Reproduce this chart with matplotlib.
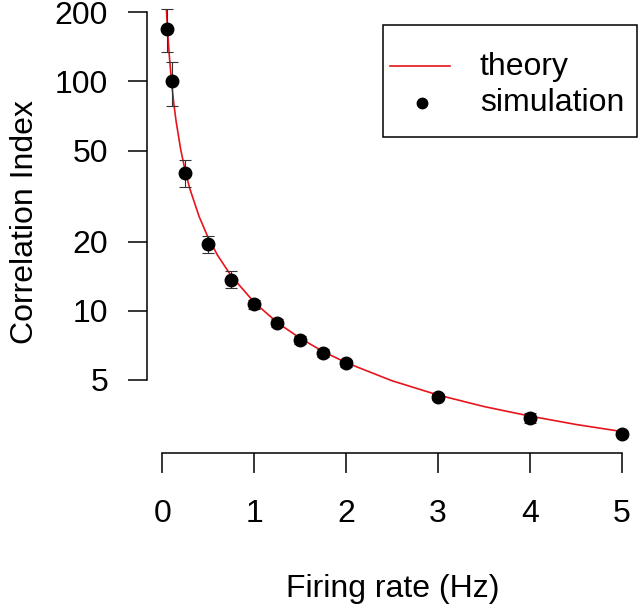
import matplotlib
matplotlib.use("Agg")
import matplotlib.pyplot as plt
import numpy as np
from matplotlib.lines import Line2D
from matplotlib.patches import Rectangle

plt.rcParams["font.family"] = ["Liberation Sans", "DejaVu Sans"]

# simulation points (firing rate in Hz, correlation index)
rate = [0.05, 0.1, 0.25, 0.5, 0.75, 1.0, 1.25, 1.5, 1.75, 2.0, 3.0, 4.0, 5.0]
sim_ci = [170, 100, 40, 19.6, 13.7, 10.7, 8.9, 7.47, 6.54, 5.91, 4.22, 3.42, 2.92]
sim_lo = [134, 78, 34.8, 17.9, 12.6, 10.2, 8.55, 7.18, 6.28, 5.72, 4.11, 3.25, 2.85]
sim_hi = [206, 122, 45.6, 21.3, 14.9, 11.2, 9.25, 7.78, 6.82, 6.10, 4.34, 3.60, 3.00]

# theory curve
th_rate = [0.045, 0.05, 0.06, 0.075, 0.1, 0.125, 0.15, 0.2, 0.25, 0.3, 0.4, 0.5,
           0.6, 0.75, 1.0, 1.25, 1.5, 1.75, 2.0, 2.5, 3.0, 3.5, 4.0, 4.5, 5.0]
th_ci = [205, 186, 160, 131, 100, 80, 67, 50.5, 40.6, 34, 25.8, 20.8,
         17.5, 14.2, 10.9, 8.9, 7.6, 6.65, 5.95, 4.96, 4.3, 3.83, 3.48, 3.2, 2.98]

x_ticks = [0, 1, 2, 3, 4, 5]
y_ticks = [5, 10, 20, 50, 100, 200]

FS = 23
W, H = 640, 608
fig = plt.figure(figsize=(W / 100, H / 100), dpi=100)
ax = fig.add_axes([146.7 / W, 1 - 452.7 / H, (640 - 146.7) / W, 452.7 / H])

ax.set_yscale("log")
ax.set_xlim(-0.17, 5.198)
ax.set_ylim(2.41, 226.4)

ax.plot(th_rate, th_ci, color="#e8141c", lw=1.2, zorder=2, clip_on=False)

ci = np.array(sim_ci)
yerr = [ci - np.array(sim_lo), np.array(sim_hi) - ci]
ax.errorbar(rate, sim_ci, yerr=yerr, fmt="none", ecolor="#333333",
            elinewidth=0.8, capsize=4.3, capthick=0.8, zorder=3, clip_on=False)
ax.plot(rate, sim_ci, "o", color="black", ms=9, zorder=4, clip_on=False)

for side in ["top", "right"]:
    ax.spines[side].set_visible(False)
ax.spines["left"].set_bounds(5, 200)
ax.spines["bottom"].set_bounds(0, 5)
for side in ["left", "bottom"]:
    ax.spines[side].set_linewidth(1.1)

ax.set_xticks(x_ticks)
ax.set_xticklabels([str(t) for t in x_ticks])
ax.set_yticks(y_ticks)
ax.set_yticklabels([str(t) for t in y_ticks])
ax.yaxis.set_minor_locator(matplotlib.ticker.NullLocator())
ax.tick_params(axis="y", length=13.8, width=1.1, pad=14.0, labelsize=FS)
ax.tick_params(axis="x", length=14.4, width=1.1, pad=19.0, labelsize=FS)

fig.text(393 / W, 1 - 597 / H, "Firing rate (Hz)", ha="center", va="baseline", fontsize=FS)
fig.text(33 / W, 1 - 222 / H, "Correlation Index", ha="center", va="baseline",
         rotation=90, rotation_mode="anchor", fontsize=FS)

# legend box, drawn by hand to match R's layout
def fx(px):
    return px / W


def fy(py):
    return 1 - py / H


fig.add_artist(Rectangle((fx(382.7), fy(137)), fx(637) - fx(382.7), fy(25) - fy(137),
                         transform=fig.transFigure, fill=False, ec="black", lw=1.1))
fig.add_artist(Line2D([fx(390), fx(450)], [fy(66), fy(66)], transform=fig.transFigure,
                      color="#e8141c", lw=1.2))
fig.add_artist(Line2D([fx(422)], [fy(103)], transform=fig.transFigure, marker="o",
                      color="black", ms=7.5, ls="none"))
fig.text(fx(480), fy(67), "theory", ha="left", va="center", fontsize=FS)
fig.text(fx(480), fy(103), "simulation", ha="left", va="center", fontsize=FS)

fig.savefig("out.png", dpi=100)
